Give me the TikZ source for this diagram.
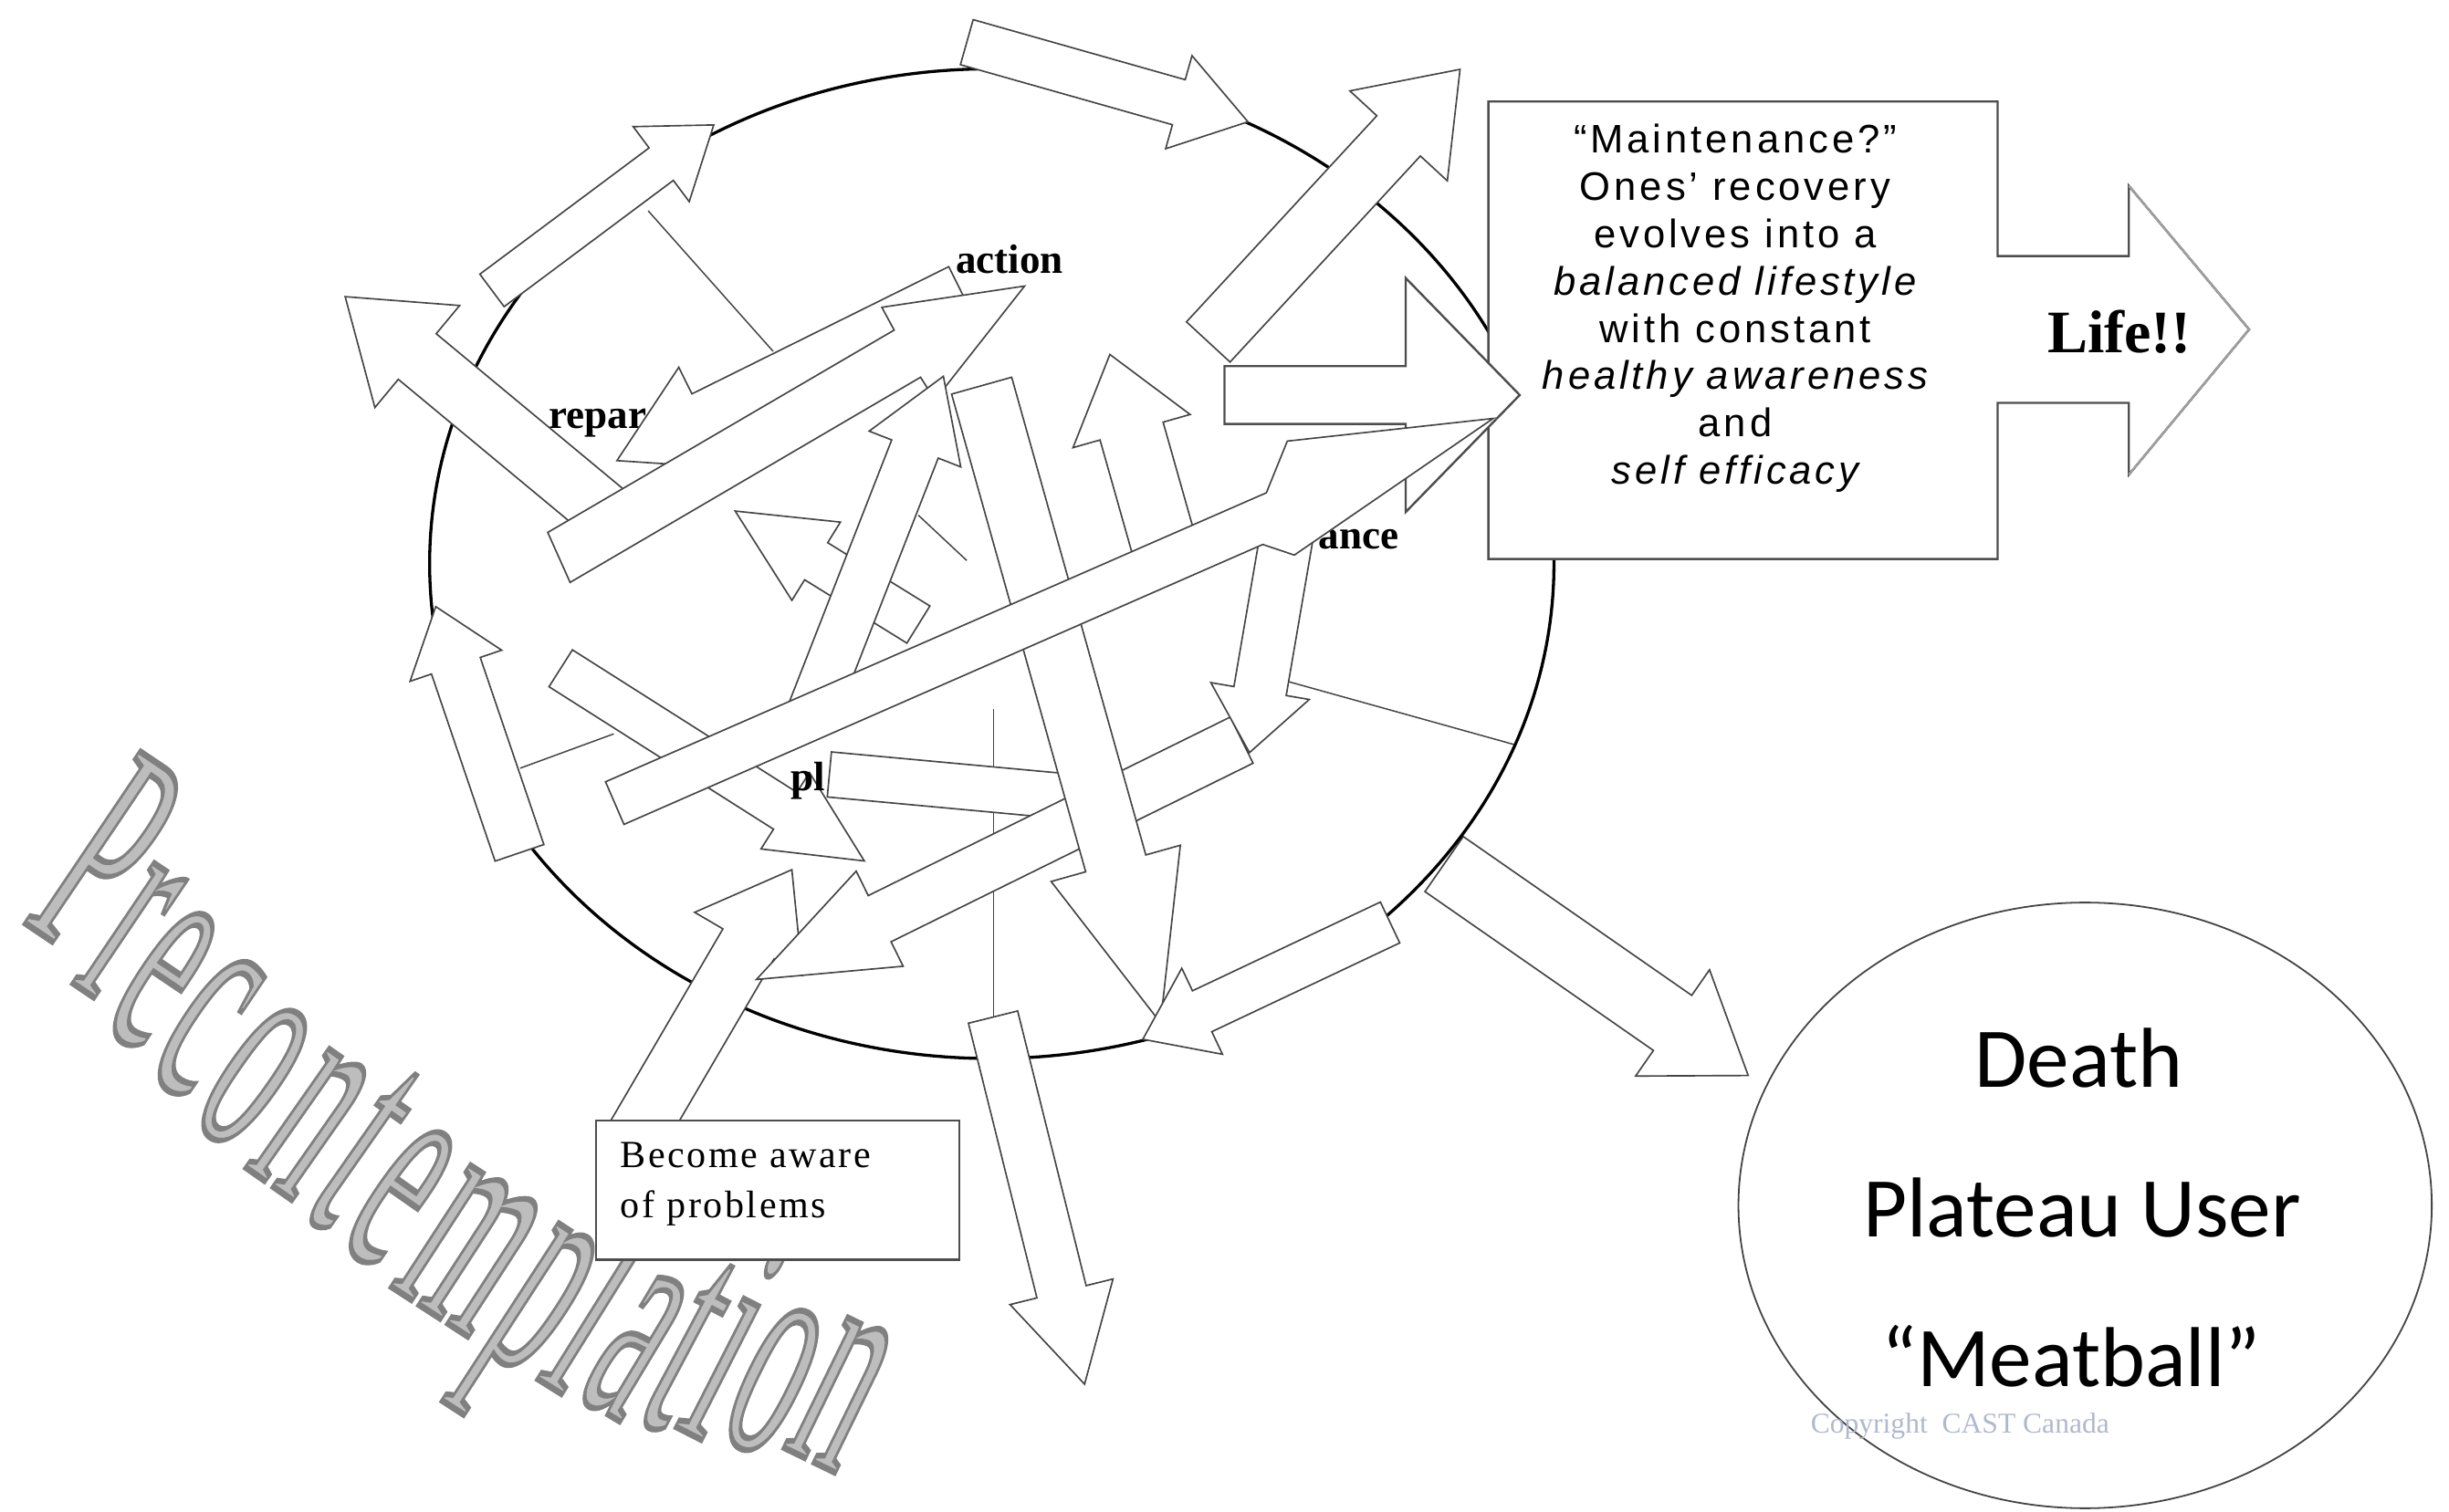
\documentclass[tikz,border=0pt]{standalone}
\usepackage{fontspec}
\usepackage{graphicx}
\setmainfont{Liberation Serif}
\newfontfamily\bxf[LetterSpace=9]{Liberation Sans}
\newfontfamily\bawf[LetterSpace=6]{Liberation Serif}
\newfontfamily\calf{Carlito}
\newfontfamily\waout[FakeBold=2]{Liberation Serif}
\usetikzlibrary{calc,shapes.geometric}
\definecolor{walight}{HTML}{BDBDBD}
\definecolor{edge}{HTML}{454545}
\definecolor{boxline}{HTML}{4D4D4D}
\definecolor{copyc}{HTML}{B0B9CC}
\tikzset{
  arw/.style={draw=edge, fill=white, line width=0.55pt, line join=miter},
  radial/.style={draw=edge, line width=0.5pt},
  lbl/.style={anchor=base west, inner sep=0, font=\bfseries\fontsize{15}{15}\selectfont},
  bxt/.style={anchor=base, inner sep=0, font=\bxf\fontsize{14.5}{17}\selectfont},
}
% block arrow: [style]{tail}{tip}{shaft width px}{head width px}{head length px}
\newcommand\barr[6][]{%
  \coordinate (bn) at ($(#3)!#6*0.02cm!(#2)$);
  \filldraw[arw,#1] ($(#2)!#4*0.01cm!90:(#3)$) -- ($(bn)!#4*0.01cm!90:(#3)$)
    -- ($(bn)!#5*0.01cm!90:(#3)$) -- (#3) -- ($(bn)!#5*0.01cm!-90:(#3)$)
    -- ($(bn)!#4*0.01cm!-90:(#3)$) -- ($(#2)!#4*0.01cm!-90:(#3)$) -- cycle;
}
% WordArt letter (light fill, darker stroke): x, y, rotation, letter
\newcommand\wl[4]{%
  \node[anchor=base, rotate=#3, inner sep=0, text=walight] at (#1,#2)
    {\special{pdf:code 0.5 G}\scalebox{0.46}[1.15]{\fontsize{100}{100}\waout #4}};
}
\begin{document}
\begin{tikzpicture}[x=0.02cm,y=-0.02cm]
\useasboundingbox (0,0) rectangle (1568,968);

% ---------- WordArt "Precontemplation"
\wl{32}{602}{-34}{P}
\wl{56}{636}{-34}{r}
\wl{78}{665}{-34}{e}
\wl{106}{695}{-34}{c}
\wl{136}{727}{-35}{o}
\wl{172}{758}{-35}{n}
\wl{201}{782}{-35}{t}
\wl{229}{804}{-35}{e}
\wl{275}{840}{-33}{m}
\wl{322}{871}{-33}{p}
\wl{352}{888}{-32}{l}
\wl{383}{902}{-31}{a}
\wl{415}{912}{-28}{t}
\wl{441}{918}{-27}{i}
\wl{475}{926}{-26}{o}
\wl{518}{935}{-26}{n}

% ---------- wedge lines of the wheel
\draw[radial] (415,135) -- (495,225);
\draw[radial] (333,492) -- (393,470);
\draw[radial] (636,454) -- (636,676);
\draw[radial] (823,436) -- (970,477);
\draw[radial] (588,330) -- (619,359);

% arrow to the "Death" circle (under the wheel outline)
\coordinate (Wt) at (924.6,553.4); \coordinate (Wh) at (1119.3,688.8);
\barr{Wt}{Wh}{43}{83}{59}

% ---------- the wheel
\node[draw=black, ellipse, line width=1.1pt, minimum width=14.4cm, minimum height=12.68cm, inner sep=0] (wheel) at (635,361) {};

% stage labels (partly hidden under the arrows)
\node[lbl] (lrep) at (351,274.3) {repar};
\node[lbl] (lact) at (611.6,175) {action};
\node[lbl] (lmain) at (844,351.6) {ance};

% ---------- arrows round the rim
\coordinate (Bt) at (315,186); \coordinate (Bh) at (457,80);
\barr{Bt}{Bh}{26}{60}{42}
\coordinate (At) at (619,27); \coordinate (Ah) at (799,78);
\barr{At}{Ah}{30}{62}{46}
\coordinate (Nt) at (332.6,546.2); \coordinate (Nh) at (279,388.5);
\barr{Nt}{Nh}{33}{62}{40}

% ---------- arrows inside the wheel
\coordinate (Ct) at (392,332); \coordinate (Ch) at (221,190);
\barr{Ct}{Ch}{38}{85}{60}
\coordinate (Et) at (615,186); \coordinate (Eh) at (395,295);
\barr{Et}{Eh}{34}{72}{62}
% long arrow toward "action"
\filldraw[arw] (365,373) -- (350.7,341) -- (572.5,211.4) -- (564.6,196.8) -- (656,183.2)
  -- (598.6,256.2) -- (589.4,241.6) -- cycle;
\coordinate (Mt) at (588,400); \coordinate (Mh) at (470.7,327.3);
\barr{Mt}{Mh}{28}{59}{61}
\coordinate (Lt) at (520,456); \coordinate (Lh) at (604,241);
\barr{Lt}{Lh}{32}{63}{50}
\coordinate (Tt) at (359,428); \coordinate (Th) at (553.4,551.4);
\barr{Tt}{Th}{28}{58}{60}
\node[lbl] (lcon) at (506,506.5) {pl};
\coordinate (Ut) at (531,496); \coordinate (Uh) at (715,513);
\barr{Ut}{Uh}{29}{40}{30}
\coordinate (Pt) at (400,740); \coordinate (Ph) at (507,557);
\barr{Pt}{Ph}{38}{80}{55}
\coordinate (Rt) at (795,474); \coordinate (Rh) at (484.3,627.3);
\barr{Rt}{Rh}{33}{68}{88}
\coordinate (Jt) at (746,352); \coordinate (Jh) at (710.6,227);
\barr{Jt}{Jh}{42}{78}{51}
\coordinate (Yt) at (823.5,345); \coordinate (Yh) at (800,482);
\barr{Yt}{Yh}{34}{64}{40}
\coordinate (It) at (628.5,247); \coordinate (Ih) at (743,655);
\barr{It}{Ih}{40}{86}{106}

% ---------- Maintenance box with the "Life!!" arrow
\filldraw[fill=white, draw=boxline, line width=0.8pt, line join=miter]
  (953,65) -- (1279,65) -- (1279,164) -- (1363,164) -- (1363,119) -- (1440,211)
  -- (1363,304) -- (1363,258) -- (1279,258) -- (1279,358) -- (953,358) -- cycle;
\draw[gray!75, line width=0.8pt] (1363,119) -- (1440,211) -- (1363,304);
\node[bxt] (m1) at (1111,98) {“Maintenance?”};
\node[bxt] (m2) at (1111,128.3) {Ones’ recovery};
\node[bxt] (m3) at (1111,158.6) {evolves into a};
\node[bxt] (m4) at (1111,188.9) {\itshape balanced lifestyle};
\node[bxt] (m5) at (1111,219.2) {with constant};
\node[bxt] (m6) at (1111,249.5) {\itshape healthy awareness};
\node[bxt] (m7) at (1111,279.8) {and};
\node[bxt] (m8) at (1111,310.1) {\itshape self efficacy};
\node[anchor=base, inner sep=0, font=\bfseries\fontsize{22}{22}\selectfont] (life) at (1357,225.7) {Life!!};

% arrows into the Maintenance box
\coordinate (Gt) at (784,253); \coordinate (Gh) at (973,253);
\barr[draw=boxline, line width=0.8pt]{Gt}{Gh}{37}{150}{73}
\filldraw[arw] (387.7,500.7) -- (810.8,315.6) -- (824.2,282.5) -- (956,268)
  -- (828.7,355.5) -- (808.5,348.7) -- (399.5,528) -- cycle;
\coordinate (Ft) at (773.6,219); \coordinate (Fh) at (934.8,44.4);
\barr{Ft}{Fh}{38}{85}{58}

% arrows leaving the wheel at the bottom
\coordinate (Xt) at (890,590.8); \coordinate (Xh) at (731.7,665.6);
\barr{Xt}{Xh}{29}{61}{42}
\coordinate (Vt) at (635.8,651.4); \coordinate (Vh) at (694.4,886.5);
\barr{Vt}{Vh}{32.5}{68}{61}

% ---------- "Become aware of problems"
\node[draw=boxline, fill=white, line width=0.8pt, minimum width=4.652cm, minimum height=1.782cm, inner sep=0, anchor=north west] (aware) at (381,717) {};
\node[anchor=base west, inner sep=0, font=\bawf\fontsize{14}{16}\selectfont] (aw1) at (397,747.6) {Become aware};
\node[anchor=base west, inner sep=0, font=\bawf\fontsize{14}{16}\selectfont] (aw2) at (397,779.7) {of problems};

% ---------- Death circle
\node[draw=edge, ellipse, line width=0.6pt, minimum width=8.88cm, minimum height=7.76cm, inner sep=0] (death) at (1335,772) {};
\node[anchor=base, inner sep=0, font=\calf\fontsize{31}{31}\selectfont] (d1) at (1331,696.5) {Death};
\node[anchor=base, inner sep=0, font=\calf\fontsize{31}{31}\selectfont] (d2) at (1333,792.3) {Plateau User};
\node[anchor=base, inner sep=0, font=\calf\fontsize{31}{31}\selectfont] (d3) at (1326,888) {“Meatball”};
\node[anchor=base west, inner sep=0, text=copyc, font=\fontsize{10.5}{11}\selectfont] (copy) at (1159,917.7) {Copyright\ \ CAST Canada};
\end{tikzpicture}
\end{document}
